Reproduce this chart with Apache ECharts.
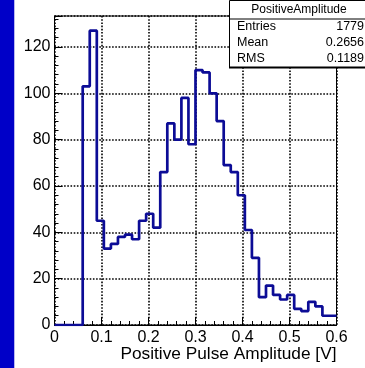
<!DOCTYPE html>
<html><head><meta charset="utf-8">
<script src="https://cdn.jsdelivr.net/npm/echarts@6/dist/echarts.min.js"></script>
<style>html,body{margin:0;padding:0;background:#fff;}#c{width:365px;height:368px;}</style>
</head><body><div id="c"></div>
<script>
const binWidth = 0.015;
const counts = [0,0,0,0,103,127,45,33,35,38,39,37,45,48,42,66,87,80,98,78,110,109,100,88,69,66,56,41,29,12,17,13,11,13,7,6,10,8,4,4];
const xTicks = [0,0.1,0.2,0.3,0.4,0.5,0.6];
const yTicks = [0,20,40,60,80,100,120];
const statsTitle = 'PositiveAmplitude';
const statsNames = ['Entries','Mean','RMS'];
const statsValues = ['1779','0.2656','0.1189'];
const xTitle = 'Positive Pulse Amplitude [V]';

const pts = counts.map((c,i)=>[+(i*binWidth).toFixed(4), c]);
pts.push([+(counts.length*binWidth).toFixed(4), counts[counts.length-1]]);
const yMax = 133.35;
const font = 'Liberation Sans, Arial, sans-serif';

const chart = echarts.init(document.getElementById('c'), null, {renderer:'canvas'});
const statsGraphic = [
  {type:'rect', left:229, top:0, shape:{width:137, height:67}, style:{fill:'#fff', stroke:'#000', lineWidth:1}, z:100},
  {type:'line', shape:{x1:229, y1:67.5, x2:366, y2:67.5}, style:{stroke:'#000', lineWidth:2}, z:101},
  {type:'line', shape:{x1:229, y1:19, x2:366, y2:19}, style:{stroke:'#000', lineWidth:1}, z:101},
  {type:'text', x:299, y:10, style:{text:statsTitle, font:'12px '+font, fill:'#000', align:'center', verticalAlign:'middle'}, z:102}
];
statsNames.forEach((n,i)=>{
  statsGraphic.push({type:'text', x:237, y:27+16*i, style:{text:n, font:'12.5px '+font, fill:'#000', align:'left', verticalAlign:'middle'}, z:102});
  statsGraphic.push({type:'text', x:364, y:27+16*i, style:{text:statsValues[i], font:'12.5px '+font, fill:'#000', align:'right', verticalAlign:'middle'}, z:102});
});

chart.setOption({
  animation:false,
  backgroundColor:'#fff',
  grid:{left:54.5, right:28.5, top:16, bottom:43, show:true, borderColor:'#000', borderWidth:1, backgroundColor:'transparent'},
  xAxis:[{
    type:'value', min:0, max:0.6, interval:0.1,
    axisLine:{show:true, lineStyle:{color:'#000', width:1}},
    axisTick:{show:true, inside:true, length:8, lineStyle:{color:'#000'}},
    minorTick:{show:true, splitNumber:5, length:4, lineStyle:{color:'#000'}},
    splitLine:{show:true, lineStyle:{color:'#000', type:[1.6,1.6], width:1.6}},
    axisLabel:{color:'#000', fontSize:16, fontFamily:font, margin:5,
      formatter:v=>{const t=xTicks.find(x=>Math.abs(x-v)<1e-9); return t===undefined?'':String(t);}},
    name:xTitle, nameLocation:'end', nameGap:0,
    nameTextStyle:{color:'#000', fontSize:17.3, fontFamily:font, align:'right', verticalAlign:'top', padding:[21,0,0,0]}
  }],
  yAxis:[{
    type:'value', min:0, max:yMax, interval:20,
    axisLine:{show:true, lineStyle:{color:'#000', width:1}},
    axisTick:{show:true, inside:true, length:8, lineStyle:{color:'#000'}},
    splitLine:{show:true, lineStyle:{color:'#000', type:[1.6,1.6], width:1.6}},
    axisLabel:{color:'#000', fontSize:16, fontFamily:font, margin:4,
      formatter:v=>{const t=yTicks.find(x=>Math.abs(x-v)<1e-9); return t===undefined?'':String(t);}}
  },{
    type:'value', min:0, max:yMax, interval:4, position:'left',
    axisLine:{show:false},
    axisTick:{show:true, inside:true, length:4, lineStyle:{color:'#000'}},
    splitLine:{show:false}, axisLabel:{show:false}
  }],
  graphic:[
    {type:'rect', left:0, top:0, shape:{width:14, height:368}, style:{fill:'#0000c8'}, z:90},
    {type:'rect', left:14, top:0, shape:{width:1, height:368}, style:{fill:'#b8b8ee'}, z:90}
  ].concat(statsGraphic),
  series:[{
    type:'line', step:'end', data:pts, showSymbol:false, symbol:'none',
    lineStyle:{color:'#0c0c96', width:2.7}, clip:true, z:10
  }]
});
</script></body></html>
